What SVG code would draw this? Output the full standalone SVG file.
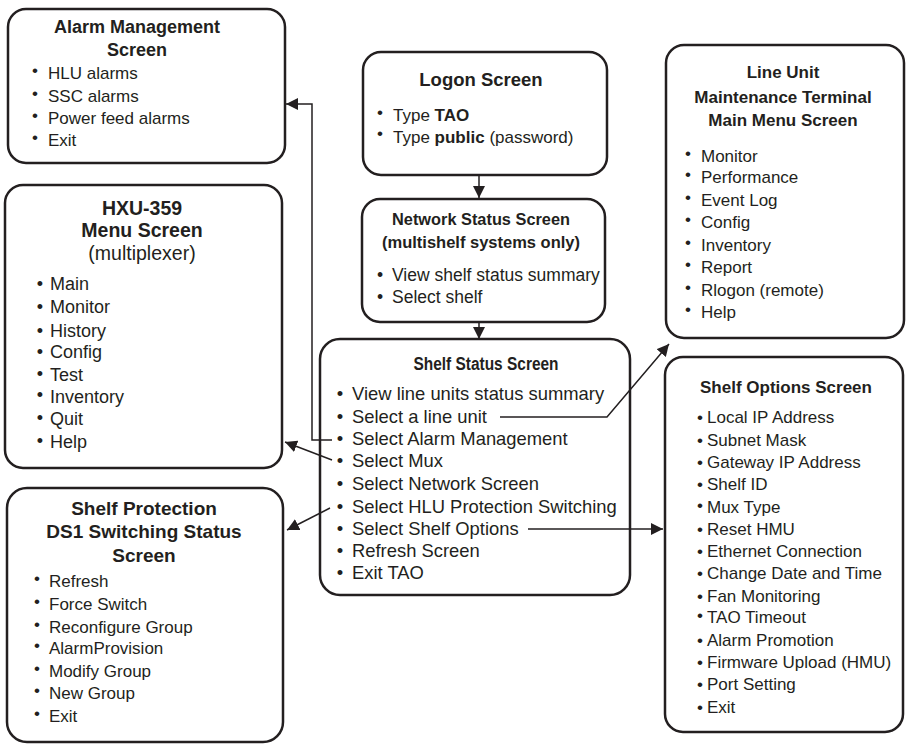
<svg xmlns="http://www.w3.org/2000/svg" width="908" height="744" viewBox="0 0 908 744">
<defs>
<style>
.box{fill:#fff;stroke:#231f20;stroke-width:2.5}
text{font-family:"Liberation Sans",Arial,sans-serif;fill:#231f20}
.t{font-weight:bold;text-anchor:middle}
.b{text-anchor:middle}
.c{fill:none;stroke:#231f20;stroke-width:1.5;marker-end:url(#ah)}
</style>
<marker id="ah" markerUnits="userSpaceOnUse" markerWidth="13" markerHeight="12" refX="12" refY="6" orient="auto" viewBox="0 0 13 12">
<path d="M0,0 L12,6 L0,12 z" fill="#231f20"/>
</marker>
</defs>
<rect width="908" height="744" fill="#fff"/>

<g id="alarm-management">
<rect class="box" x="8" y="9" width="277" height="154" rx="18"/>
<text class="t" x="137" y="33" font-size="18">Alarm Management</text>
<text class="t" x="137" y="56" font-size="18">Screen</text>
<g font-size="17">
<text class="b" x="35" y="76">•</text><text x="48" y="79">HLU alarms</text>
<text class="b" x="35" y="99">•</text><text x="48" y="102">SSC alarms</text>
<text class="b" x="35" y="121">•</text><text x="48" y="124">Power feed alarms</text>
<text class="b" x="35" y="143">•</text><text x="48" y="146">Exit</text>
</g>
</g>

<g id="logon">
<rect class="box" x="363" y="52" width="244" height="123" rx="18"/>
<text class="t" x="481" y="86" font-size="18.5">Logon Screen</text>
<g font-size="17">
<text class="b" x="380" y="118">•</text><text x="393" y="121">Type <tspan font-weight="bold">TAO</tspan></text>
<text class="b" x="380" y="139">•</text><text x="393" y="143">Type <tspan font-weight="bold">public</tspan> (password)</text>
</g>
</g>

<g id="network-status">
<rect class="box" x="362" y="199" width="243" height="123" rx="18"/>
<text class="t" x="481" y="225" font-size="17" textLength="178" lengthAdjust="spacingAndGlyphs">Network Status Screen</text>
<text class="t" x="481" y="248" font-size="17" textLength="198" lengthAdjust="spacingAndGlyphs">(multishelf systems only)</text>
<g font-size="17.5">
<text class="b" x="380" y="281">•</text><text x="392" y="281">View shelf status summary</text>
<text class="b" x="380" y="303">•</text><text x="392" y="303">Select shelf</text>
</g>
</g>

<g id="shelf-status">
<rect class="box" x="320" y="339" width="310" height="256" rx="20"/>
<text class="t" x="486" y="370" font-size="17.5" textLength="145" lengthAdjust="spacingAndGlyphs">Shelf Status Screen</text>
<g font-size="18.4">
<text class="b" x="340" y="400">•</text><text x="352" y="400">View line units status summary</text>
<text class="b" x="340" y="423">•</text><text x="352" y="423">Select a line unit</text>
<text class="b" x="340" y="445">•</text><text x="352" y="445">Select Alarm Management</text>
<text class="b" x="340" y="467">•</text><text x="352" y="467">Select Mux</text>
<text class="b" x="340" y="490">•</text><text x="352" y="490">Select Network Screen</text>
<text class="b" x="340" y="513">•</text><text x="352" y="513">Select HLU Protection Switching</text>
<text class="b" x="340" y="535">•</text><text x="352" y="535">Select Shelf Options</text>
<text class="b" x="340" y="557">•</text><text x="352" y="557">Refresh Screen</text>
<text class="b" x="340" y="579">•</text><text x="352" y="579">Exit TAO</text>
</g>
</g>

<g id="line-unit">
<rect class="box" x="666" y="45" width="238" height="293" rx="18"/>
<text class="t" x="783" y="78" font-size="17">Line Unit</text>
<text class="t" x="783" y="103" font-size="17">Maintenance Terminal</text>
<text class="t" x="783" y="126" font-size="17">Main Menu Screen</text>
<g font-size="17">
<text class="b" x="688" y="159">•</text><text x="701" y="162">Monitor</text>
<text class="b" x="688" y="180">•</text><text x="701" y="183">Performance</text>
<text class="b" x="688" y="203">•</text><text x="701" y="206">Event Log</text>
<text class="b" x="688" y="225">•</text><text x="701" y="228">Config</text>
<text class="b" x="688" y="248">•</text><text x="701" y="251">Inventory</text>
<text class="b" x="688" y="270">•</text><text x="701" y="273">Report</text>
<text class="b" x="688" y="293">•</text><text x="701" y="296">Rlogon (remote)</text>
<text class="b" x="688" y="315">•</text><text x="701" y="318">Help</text>
</g>
</g>

<g id="hxu-359">
<rect class="box" x="5" y="185" width="277" height="283" rx="18"/>
<text class="t" x="142" y="215" font-size="19.5">HXU-359</text>
<text class="t" x="142" y="237" font-size="19.5">Menu Screen</text>
<text x="142" y="260" font-size="19.5" text-anchor="middle">(multiplexer)</text>
<g font-size="18">
<text class="b" x="40" y="290">•</text><text x="50" y="290">Main</text>
<text class="b" x="40" y="313">•</text><text x="50" y="313">Monitor</text>
<text class="b" x="40" y="337">•</text><text x="50" y="337">History</text>
<text class="b" x="40" y="358">•</text><text x="50" y="358">Config</text>
<text class="b" x="40" y="380">•</text><text x="50" y="381">Test</text>
<text class="b" x="40" y="401">•</text><text x="50" y="403">Inventory</text>
<text class="b" x="40" y="424">•</text><text x="50" y="425">Quit</text>
<text class="b" x="40" y="447">•</text><text x="50" y="448">Help</text>
</g>
</g>

<g id="shelf-protection">
<rect class="box" x="7" y="488" width="276" height="254" rx="20"/>
<text class="t" x="144" y="515" font-size="19">Shelf Protection</text>
<text class="t" x="144" y="538" font-size="19">DS1 Switching Status</text>
<text class="t" x="144" y="562" font-size="19">Screen</text>
<g font-size="17">
<text class="b" x="37" y="584">•</text><text x="49" y="587">Refresh</text>
<text class="b" x="37" y="607">•</text><text x="49" y="610">Force Switch</text>
<text class="b" x="37" y="630">•</text><text x="49" y="633">Reconfigure Group</text>
<text class="b" x="37" y="651">•</text><text x="49" y="654">AlarmProvision</text>
<text class="b" x="37" y="674">•</text><text x="49" y="677">Modify Group</text>
<text class="b" x="37" y="696">•</text><text x="49" y="699">New Group</text>
<text class="b" x="37" y="719">•</text><text x="49" y="722">Exit</text>
</g>
</g>

<g id="shelf-options">
<rect class="box" x="665" y="357" width="238" height="375" rx="18"/>
<text class="t" x="786" y="393" font-size="17">Shelf Options Screen</text>
<g font-size="17">
<text class="b" x="700" y="423">•</text><text x="707" y="423">Local IP Address</text>
<text class="b" x="700" y="446">•</text><text x="707" y="446">Subnet Mask</text>
<text class="b" x="700" y="468">•</text><text x="707" y="468">Gateway IP Address</text>
<text class="b" x="700" y="490">•</text><text x="707" y="490">Shelf ID</text>
<text class="b" x="700" y="511">•</text><text x="707" y="513">Mux Type</text>
<text class="b" x="700" y="535">•</text><text x="707" y="535">Reset HMU</text>
<text class="b" x="700" y="557">•</text><text x="707" y="557">Ethernet Connection</text>
<text class="b" x="700" y="579">•</text><text x="707" y="579">Change Date and Time</text>
<text class="b" x="700" y="602">•</text><text x="707" y="602">Fan Monitoring</text>
<text class="b" x="700" y="621">•</text><text x="707" y="623">TAO Timeout</text>
<text class="b" x="700" y="646">•</text><text x="707" y="646">Alarm Promotion</text>
<text class="b" x="700" y="668">•</text><text x="707" y="668">Firmware Upload (HMU)</text>
<text class="b" x="700" y="690">•</text><text x="707" y="690">Port Setting</text>
<text class="b" x="700" y="713">•</text><text x="707" y="713">Exit</text>
</g>
</g>

<g id="connectors">
<path class="c" d="M479,175 V198"/>
<path class="c" d="M479,322 V339"/>
<path class="c" d="M332,440 H312 V104 H286"/>
<path class="c" d="M500,417 H607 L669,344"/>
<path class="c" d="M332,460 L285,442"/>
<path class="c" d="M330,508 L287,530"/>
<path class="c" d="M528,529 H663"/>
</g>
</svg>
